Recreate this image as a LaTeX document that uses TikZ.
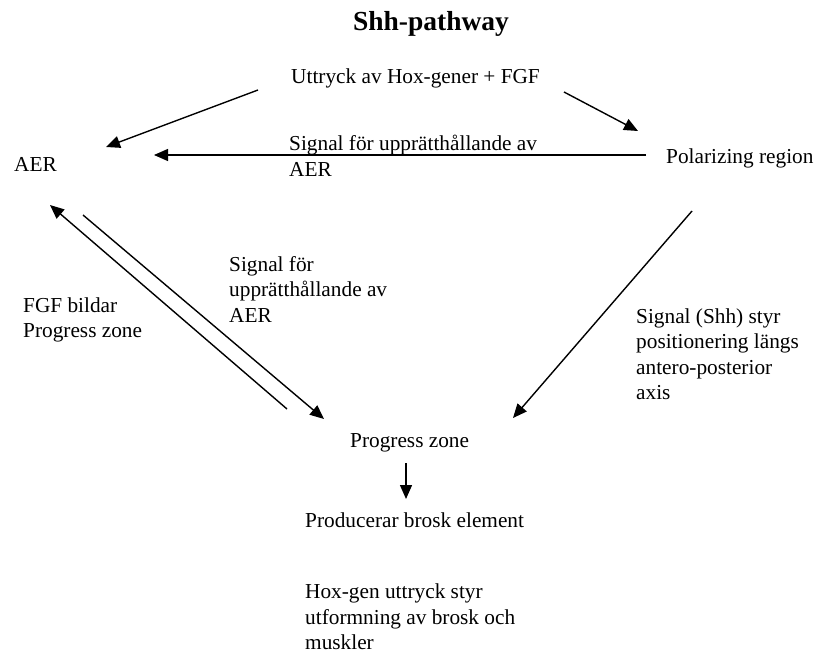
\documentclass[tikz,border=0pt]{standalone}
\usepackage{fontspec}
\setmainfont{Liberation Serif}
\usetikzlibrary{arrows.meta}
\begin{document}
\begin{tikzpicture}[x=1pt,y=-1pt,
  lbl/.style={inner sep=0pt, anchor=west, align=left, font=\fontsize{21.3}{25.5}\selectfont},
  conn/.style={line width=1.4pt, -{Triangle[length=14pt,width=12pt]}}]
\useasboundingbox (0,0) rectangle (818,655);
\node[inner sep=0pt, font=\bfseries\fontsize{27.5}{30}\selectfont] (title) at (431,24) {Shh-pathway};
\node[lbl] (hox) at (291,78) {Uttryck av Hox-gener + FGF};
\node[lbl] (aer) at (14,164) {AER};
\node[lbl] (sig1) at (289,156) {Signal för upprätthållande av\\AER};
\node[lbl] (pol) at (666,158) {Polarizing region};
\node[lbl] (sig2) at (229,289) {Signal för\\upprätthållande av\\AER};
\node[lbl] (fgf) at (23,320) {FGF bildar\\Progress zone};
\node[lbl] (shh) at (636,354) {Signal (Shh) styr\\positionering längs\\antero-posterior\\axis};
\node[lbl] (pz) at (350,443) {Progress zone};
\node[lbl] (prod) at (305,520) {Producerar brosk element};
\node[lbl] (hoxgen) at (305,617) {Hox-gen uttryck styr\\utformning av brosk och\\muskler};
% connector end points
\coordinate (a1s) at (258,90);  \coordinate (a1e) at (106,147);
\coordinate (a2s) at (564,92);  \coordinate (a2e) at (638,131);
\coordinate (a3s) at (646,155); \coordinate (a3e) at (154,155);
\coordinate (a4s) at (287,409); \coordinate (a4e) at (50,205);
\coordinate (a5s) at (83,215);  \coordinate (a5e) at (324,419);
\coordinate (a6s) at (692,211); \coordinate (a6e) at (513,418);
\coordinate (a7s) at (406,463); \coordinate (a7e) at (406,499);
\draw[conn] (a1s) -- (a1e);
\draw[conn] (a2s) -- (a2e);
\draw[conn] (a3s) -- (a3e);
\draw[conn] (a4s) -- (a4e);
\draw[conn] (a5s) -- (a5e);
\draw[conn] (a6s) -- (a6e);
\draw[conn] (a7s) -- (a7e);
\end{tikzpicture}
\end{document}
